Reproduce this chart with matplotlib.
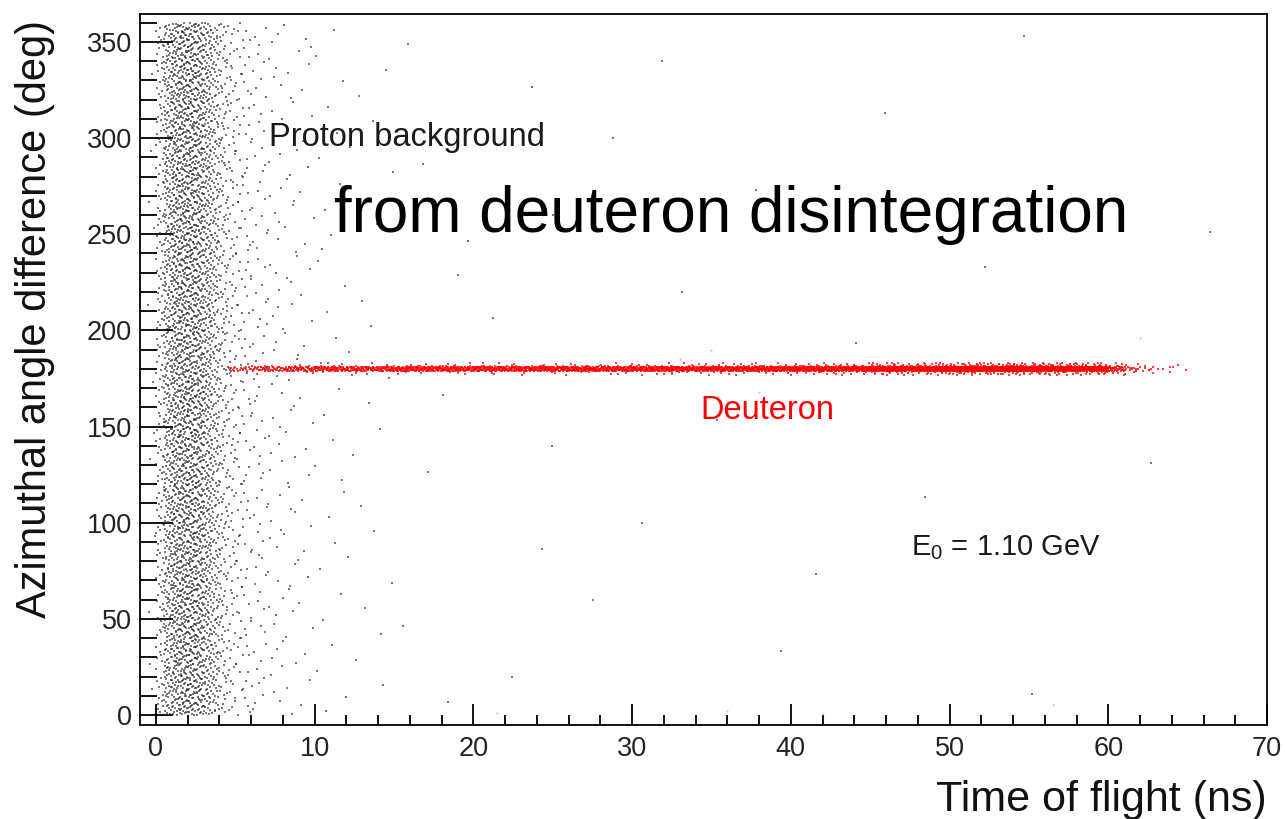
"""Azimuthal angle difference vs time of flight (ROOT-style SCAT plot)."""

import matplotlib
import numpy as np

matplotlib.use("Agg")
import matplotlib.pyplot as plt
from matplotlib.ticker import MultipleLocator

plt.rcParams["font.family"] = ["Liberation Sans", "DejaVu Sans"]

# proton background: counts per time-of-flight bin, spread over the full 0-360 deg
proton_edges = [-0.5, 0.0, 0.5, 1.0, 1.5, 2.0, 2.5, 3.0, 3.5, 4.0, 4.5, 5.0, 5.5,
                6.0, 7.0, 8.0, 9.0, 10.0, 12.0, 15.0, 20.0, 25.0, 30.0, 35.0,
                40.0, 45.0, 50.0, 55.0, 60.0, 65.0, 70.0]
proton_counts = [20, 170, 440, 610, 680, 680, 610, 470, 320, 190, 120, 85,
                 65, 85, 55, 42, 28, 30, 22, 8, 5, 4, 3, 3, 2, 2, 2, 1, 1, 1]
proton_range = (0.0, 360.0)

# deuteron line at 180 deg: dense core and a wider halo, counts per bin
deut_edges = [4.5, 6, 8, 10, 15, 20, 25, 30, 35, 40, 45, 50, 55, 58, 60, 61,
              62, 63, 65]
deut_core = [20, 45, 60, 180, 210, 220, 230, 240, 260, 290, 360, 420, 250, 140,
             30, 12, 5, 4]
deut_halo = [0, 3, 5, 15, 20, 20, 25, 30, 35, 50, 90, 120, 70, 40, 12, 6, 3, 3]
deut_center = 180.0
deut_core_hw = 1.3
deut_halo_hw = 3.2

# a few stray red entries
stray_x = [21.5, 36.0, 42.0, 56.5, 35.0, 38.0, 62.0, 33.0]
stray_y = [1.0, 2.0, 0.5, 5.0, 190.0, 168.0, 196.0, 185.0]


def scat(edges, counts, ylo, yhi, start=0):
    """Fill each bin with its count of dots, ROOT 'SCAT' style (Halton layout)."""
    def halton(idx, base):
        f, r = 1.0, np.zeros(len(idx))
        i = idx.astype(float)
        while np.any(i > 0):
            f /= base
            r += f * (i % base)
            i = np.floor(i / base)
        return r

    xs, ys = [], []
    k0 = start
    for lo, hi, n in zip(edges[:-1], edges[1:], counts):
        k = np.arange(k0 + 1, k0 + n + 1)
        xs.append(lo + (hi - lo) * halton(k, 2))
        ys.append(ylo + (yhi - ylo) * halton(k, 3))
        k0 += n
    return np.concatenate(xs), np.concatenate(ys)


fig = plt.figure(figsize=(12.85, 8.19), dpi=100)
ax = fig.add_axes([140 / 1285, 94 / 819, 1127 / 1285, 711 / 819])

px, py = scat(proton_edges, proton_counts, *proton_range)
ax.plot(px, py, ls="none", marker="s", ms=1.6, mew=0, color="#202020", alpha=0.6)

cx, cy = scat(deut_edges, deut_core, deut_center - deut_core_hw,
              deut_center + deut_core_hw, start=17)
hx, hy = scat(deut_edges, deut_halo, deut_center - deut_halo_hw,
              deut_center + deut_halo_hw, start=5003)
ax.plot(np.r_[cx, hx], np.r_[cy, hy], ls="none", marker="s", ms=1.6, mew=0,
        color="#ff0000", alpha=0.75)
ax.plot(stray_x, stray_y, ls="none", marker="s", ms=1.2, mew=0,
        color="#ff6060", alpha=0.6)

ax.set_xlim(-1, 70)
ax.set_ylim(-5.2, 364.5)
ax.xaxis.set_major_locator(MultipleLocator(10))
ax.xaxis.set_minor_locator(MultipleLocator(2))
ax.yaxis.set_major_locator(MultipleLocator(50))
ax.yaxis.set_minor_locator(MultipleLocator(10))
ax.tick_params(which="both", direction="in", top=False, right=False,
               labelsize=19.5, colors="black", labelcolor="#222222", width=1.3)
ax.tick_params(axis="x", which="major", length=15, pad=8)
ax.tick_params(axis="x", which="minor", length=7.5)
ax.tick_params(axis="y", which="major", length=24, pad=6)
ax.tick_params(axis="y", which="minor", length=12)
for s in ax.spines.values():
    s.set_linewidth(1.3)

ax.text(1.0, -0.1055, "Time of flight (ns)", transform=ax.transAxes,
        ha="right", va="center", fontsize=31, color="#111111")
ax.text(-0.0932, 0.992, "Azimuthal angle difference (deg)",
        transform=ax.transAxes, ha="center", va="top", rotation=90,
        fontsize=30, color="#111111")

ax.text(7.1, 300.4, "Proton background", ha="left", va="center",
        fontsize=23.5, color="#1a1a1a")
ax.text(11.25, 260, "from deuteron disintegration", ha="left", va="center",
        fontsize=46, color="black")
ax.text(38.5, 158.5, "Deuteron", ha="center", va="center", fontsize=23.5,
        color="#ff0000")
ax.text(47.6, 86.8, r"E$_{\mathregular{0}}$ = 1.10 GeV", ha="left",
        va="center", fontsize=21, color="#1a1a1a")

fig.savefig("out.png", dpi=100)
plt.close(fig)
